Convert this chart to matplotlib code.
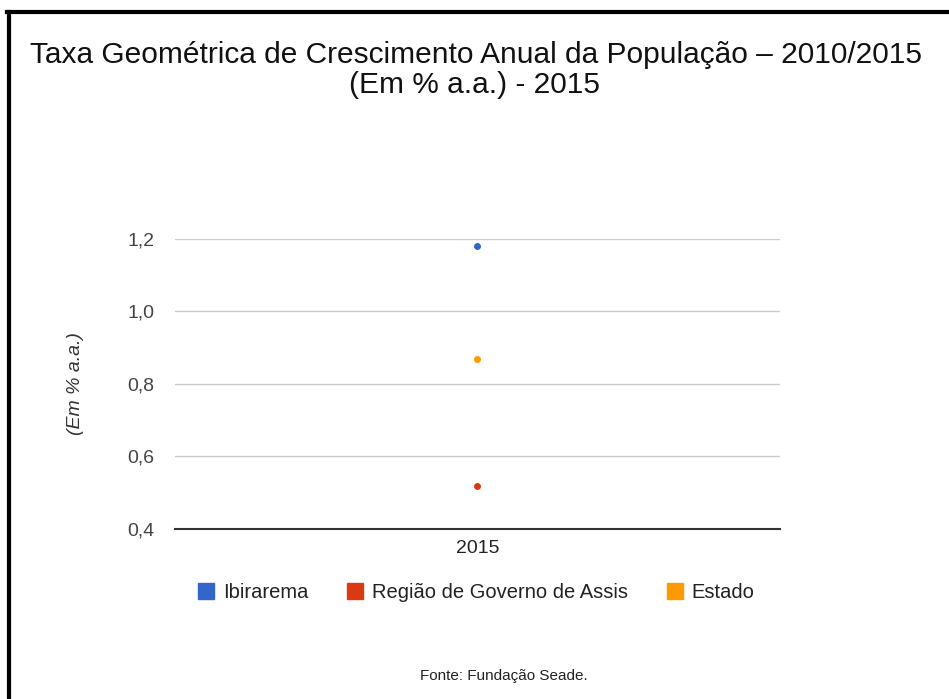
import matplotlib.pyplot as plt
from matplotlib.lines import Line2D

plt.rcParams['font.family'] = ['Liberation Sans', 'DejaVu Sans']

categories = ['2015']
series_names = ['Ibirarema', 'Região de Governo de Assis', 'Estado']
series_values = [[1.18], [0.52], [0.87]]
colors = ['#3366cc', '#dc3912', '#ff9900']
y_ticks = [0.4, 0.6, 0.8, 1.0, 1.2]
y_tick_labels = ['0,4', '0,6', '0,8', '1,0', '1,2']

fig = plt.figure(figsize=(9.49, 6.99), dpi=100)
ax = fig.add_axes([0.1844, 0.2432, 0.6375, 0.4149])

x = list(range(len(categories)))
for name, vals, c in zip(series_names, series_values, colors):
    ax.plot(x, vals, 'o', color=c, markersize=4, label=name, clip_on=False, zorder=3)

ax.set_xlim(-0.5, 0.5)
ax.set_ylim(0.4, 1.2)
ax.set_yticks(y_ticks)
ax.set_yticklabels(y_tick_labels)
ax.set_xticks(x)
ax.set_xticklabels(categories)
ax.grid(axis='y', color='#cccccc', linewidth=1)
ax.set_axisbelow(True)
for s in ['top', 'right', 'left']:
    ax.spines[s].set_visible(False)
ax.spines['bottom'].set_color('#333333')
ax.spines['bottom'].set_linewidth(1.5)
ax.tick_params(length=0, labelsize=14, colors='#444444')
ax.tick_params(axis='y', pad=15)
ax.tick_params(axis='x', pad=8)
for t in ax.get_xticklabels():
    t.set_color('#222222')

ax.set_ylabel('(Em % a.a.)', fontsize=14, style='italic', color='#333333', labelpad=31)

fig.text(0.5015, 0.921, 'Taxa Geométrica de Crescimento Anual da População – 2010/2015',
         ha='center', va='center', fontsize=21.5, color='#111111')
fig.text(0.5005, 0.878, '(Em % a.a.) - 2015',
         ha='center', va='center', fontsize=21.5, color='#111111')

handles = [Line2D([], [], marker='s', linestyle='none', markersize=11.5, color=c) for c in colors]
fig.legend(handles, series_names, loc='center', bbox_to_anchor=(0.501, 0.153), ncol=3,
           frameon=False, fontsize=14.5, handlelength=1.0, handletextpad=0.35, columnspacing=1.8,
           labelcolor='#222222')

fig.text(0.531, 0.033, 'Fonte: Fundação Seade.', ha='center', va='center', fontsize=11, color='#222222')

# black frame on left and top edges
fig.add_artist(Line2D([0.0095, 0.0095], [0.0, 0.983], transform=fig.transFigure, color='black', linewidth=3))
fig.add_artist(Line2D([0.0074, 1.0], [0.983, 0.983], transform=fig.transFigure, color='black', linewidth=3))

fig.savefig('out.png', dpi=100)
